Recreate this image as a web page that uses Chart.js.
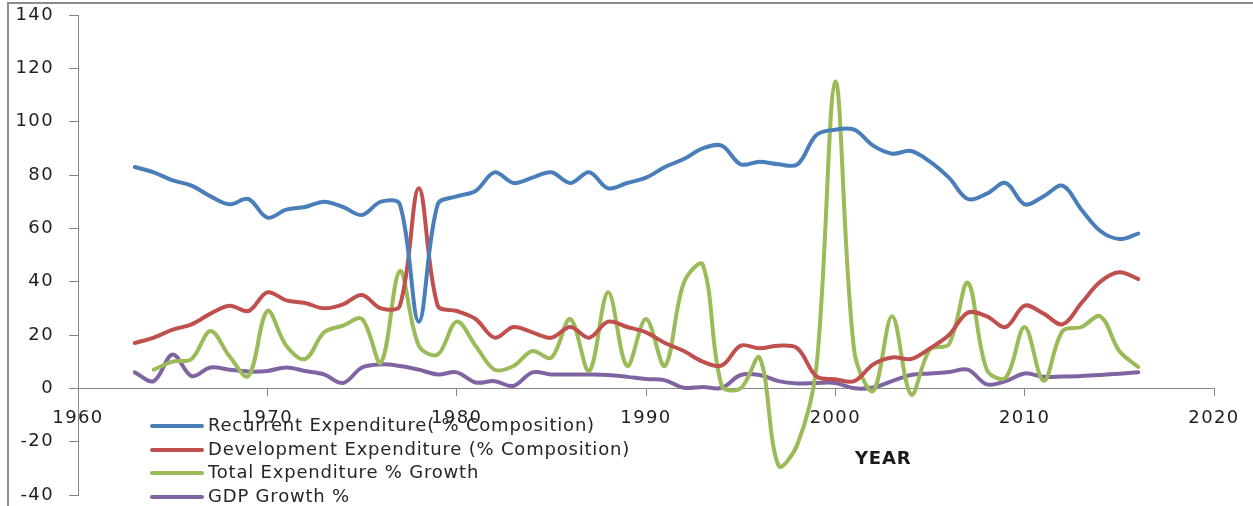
<!DOCTYPE html>
<html lang="en">
<head>
    <meta charset="UTF-8">
    <title>Expenditure and GDP Growth</title>
    <script src="https://cdn.jsdelivr.net/npm/chart.js"></script>
    <style>
        * {
            margin: 0;
            padding: 0;
            box-sizing: border-box;
        }

        body {
            background: #ffffff;
            font-family: 'DejaVu Sans', sans-serif;
        }

        .wrap {
            position: relative;
            width: 1253px;
            height: 506px;
            overflow: hidden;
        }

        .frame {
            position: absolute;
            left: 7px;
            top: 2px;
            width: 1260px;
            height: 520px;
            border-left: 2px solid #8c8c8c;
            border-top: 2px solid #8c8c8c;
            pointer-events: none;
        }

        .legend {
            position: absolute;
            left: 150px;
            top: 413px;
            color: #262626;
            font-size: 18px;
            letter-spacing: 0.8px;
            line-height: 23.6px;
        }

        .legend .item {
            white-space: nowrap;
        }

        .legend .swatch {
            display: inline-block;
            width: 54px;
            height: 4px;
            margin-right: 4px;
            vertical-align: middle;
            border-radius: 2px;
        }

        .axis-title {
            position: absolute;
            left: 855px;
            top: 447px;
            font-size: 18px;
            font-weight: bold;
            letter-spacing: 0.8px;
            color: #1a1a1a;
        }
    </style>
</head>
<body>
    <div class="wrap">
        <canvas id="expChart"></canvas>
        <div class="frame"></div>
        <div class="legend" id="legend"></div>
        <div class="axis-title">YEAR</div>
    </div>

    <script>
        const years = [1963, 1964, 1965, 1966, 1967, 1968, 1969, 1970, 1971, 1972,
            1973, 1974, 1975, 1976, 1977, 1978, 1979, 1980, 1981, 1982,
            1983, 1984, 1985, 1986, 1987, 1988, 1989, 1990, 1991, 1992,
            1993, 1994, 1995, 1996, 1997, 1998, 1999, 2000, 2001, 2002,
            2003, 2004, 2005, 2006, 2007, 2008, 2009, 2010, 2011, 2012,
            2013, 2014, 2015, 2016];

        const recurrent = [83, 81, 78, 76, 72, 69, 71, 64, 67, 68,
            70, 68, 65, 70, 69, 25, 69, 72, 74, 81,
            77, 79, 81, 77, 81, 75, 77, 79, 83, 86,
            90, 91, 84, 85, 84, 84, 95, 97, 97, 91,
            88, 89, 85, 79, 71, 73, 77, 69, 72, 76,
            67, 59, 56, 58];

        const development = [17, 19, 22, 24, 28, 31, 29, 36, 33, 32,
            30, 31.5, 35, 30, 31, 75, 31, 29, 26, 19,
            23, 21, 19, 23, 19, 25, 23, 21, 17, 14,
            10, 8.6, 16, 15, 16, 15, 4.5, 3.4, 2.7, 9,
            11.6, 11, 15, 20, 28.4, 27, 23, 31, 28, 24,
            32, 40, 43.5, 41];

        const totalGrowth = [null, 7, 10, 11, 21.5, 12, 4.6, 29, 16, 11,
            21, 23.5, 26, 9.6, 44, 16, 12.7, 25, 16, 7,
            8.4, 14, 11.5, 26, 6.5, 36, 8.4, 26, 8.4, 39.6,
            46.4, 1, 0, 11.5, -29, -21, 8, 115, 14, -1,
            27, -2.3, 14.6, 16.5, 39.6, 7, 4, 23, 2.8, 21.5,
            23, 27, 14, 8];

        const gdpGrowth = [6, 2.7, 12.7, 4.6, 7.8, 7, 6.3, 6.5, 7.8, 6.5,
            5.2, 2, 7.8, 9, 8.4, 7, 5.2, 6, 2.2, 2.7,
            0.9, 6, 5.2, 5.2, 5.2, 5, 4.3, 3.5, 3, 0.2,
            0.5, 0.2, 5, 5, 2.7, 1.8, 2, 2, 0, 0.3,
            2.7, 5, 5.6, 6.1, 7, 1.5, 2.7, 5.6, 4.3, 4.4,
            4.6, 5, 5.5, 6];

        const seriesNames = ['Recurrent Expenditure( % Composition)', 'Development Expenditure (% Composition)',
            'Total Expenditure % Growth', 'GDP Growth %'];
        const seriesColors = ['#4a7ebb', '#c0504d', '#9bbb59', '#8064a2'];

        const xTicks = [1960, 1970, 1980, 1990, 2000, 2010, 2020];
        const yTicks = [-40, -20, 0, 20, 40, 60, 80, 100, 120, 140];

        function toPoints(values) {
            return years.map((yr, i) => ({ x: yr, y: values[i] }));
        }

        const allSeries = [recurrent, development, totalGrowth, gdpGrowth];

        const axisGray = '#868686';
        const tickFont = { family: 'DejaVu Sans', size: 18 };

        const spacingPlugin = {
            id: 'spacing',
            beforeDraw(chart) {
                chart.ctx.letterSpacing = '1.4px';
            }
        };

        const ctx = document.getElementById('expChart').getContext('2d');
        const expChart = new Chart(ctx, {
            type: 'line',
            data: {
                datasets: allSeries.map((vals, i) => ({
                    label: seriesNames[i],
                    data: toPoints(vals),
                    borderColor: seriesColors[i],
                    backgroundColor: seriesColors[i],
                    borderWidth: 4,
                    pointRadius: 0,
                    tension: 0.35,
                    fill: false,
                    borderCapStyle: 'round',
                    borderJoinStyle: 'round'
                }))
            },
            options: {
                responsive: true,
                maintainAspectRatio: false,
                animation: false,
                layout: {
                    padding: { left: 0, top: 15, right: 39, bottom: 10 }
                },
                plugins: {
                    legend: { display: false },
                    tooltip: { enabled: false }
                },
                scales: {
                    x: {
                        type: 'linear',
                        min: 1960,
                        max: 2020,
                        position: { y: 0 },
                        afterBuildTicks: scale => {
                            scale.ticks = xTicks.map(v => ({ value: v }));
                        },
                        ticks: {
                            color: '#1e1e1e',
                            font: tickFont,
                            padding: 12,
                            maxRotation: 0,
                            callback: v => String(v)
                        },
                        grid: {
                            drawOnChartArea: false,
                            drawTicks: true,
                            tickLength: 7,
                            color: axisGray
                        },
                        border: { color: axisGray, width: 1 }
                    },
                    y: {
                        min: -40,
                        max: 140,
                        afterBuildTicks: scale => {
                            scale.ticks = yTicks.map(v => ({ value: v }));
                        },
                        afterFit: scale => {
                            scale.width = 78;
                            // tick padding is horizontal room only, not extra space above/below
                            scale.paddingTop = 11;
                            scale.paddingBottom = 11;
                        },
                        ticks: {
                            color: '#1e1e1e',
                            font: tickFont,
                            padding: 15,
                            callback: v => String(v)
                        },
                        grid: {
                            drawOnChartArea: false,
                            drawTicks: true,
                            tickLength: 9,
                            color: axisGray
                        },
                        border: { color: axisGray, width: 1 }
                    }
                }
            },
            plugins: [spacingPlugin]
        });

        // legend sits inside the plot, like the original
        const legendBox = document.getElementById('legend');
        seriesNames.forEach((name, i) => {
            const row = document.createElement('div');
            row.className = 'item';
            const sw = document.createElement('span');
            sw.className = 'swatch';
            sw.style.background = seriesColors[i];
            row.appendChild(sw);
            row.appendChild(document.createTextNode(name));
            legendBox.appendChild(row);
        });
    </script>
</body>
</html>
